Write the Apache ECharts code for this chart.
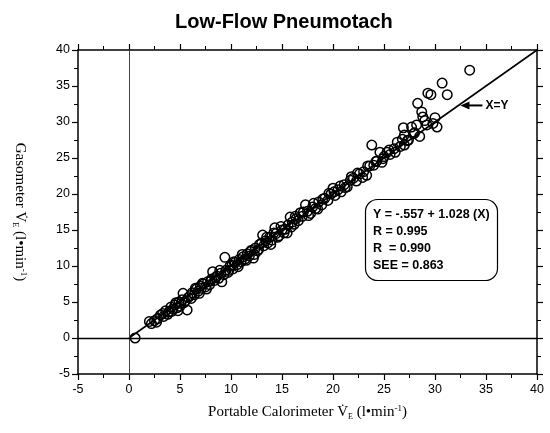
<!DOCTYPE html>
<html>
<head>
<meta charset="utf-8">
<script src="https://cdn.jsdelivr.net/npm/echarts@6/dist/echarts.min.js"></script>
<style>
  html, body { margin: 0; padding: 0; background: #fff; }
  #main { width: 550px; height: 433px; }
</style>
</head>
<body>
<div id="main"></div>
<script>
// Portable calorimeter VE (x) vs gasometer VE (y), l/min
var calorimeter = [
  0.6, 2.2, 2.5, 2.8, 3.1, 3.4, 3.6, 3.9, 4.1, 4.3, 4.5, 4.7, 4.9, 5.0, 5.2, 5.3, 5.5, 5.7, 5.8, 6.0,
  6.2, 6.4, 6.6, 6.8, 7.0, 7.1, 7.3, 7.5, 7.7, 7.9, 8.1, 8.2, 8.4, 8.6, 8.8, 9.0, 9.1, 9.4, 9.5, 9.7,
  9.9, 10.1, 10.2, 10.4, 10.6, 10.8, 11.0, 11.2, 11.4, 11.6, 11.8, 12.0, 12.2, 12.4, 12.6, 12.8, 13.1, 13.2, 13.4, 13.6,
  13.8, 14.0, 14.3, 14.4, 14.7, 15.0, 15.2, 15.5, 15.6, 15.8, 16.0, 16.2, 16.4, 16.8, 17.0, 17.3, 17.5, 17.8, 18.0, 18.3,
  18.6, 18.9, 19.2, 19.5, 19.8, 20.0, 20.2, 20.5, 20.8, 21.1, 21.4, 21.7, 22.0, 22.3, 22.6, 23.0, 23.3, 23.6, 23.8, 24.0,
  24.3, 24.6, 24.8, 25.0, 25.3, 25.6, 26.0, 26.3, 26.6, 27.0, 27.0, 26.9, 27.4, 27.7, 28.0, 28.2, 28.3, 28.5, 28.7, 28.8,
  29.2, 29.3, 29.6, 30.0, 30.2, 30.7, 31.2, 33.4,
  2.0, 2.7, 3.3, 3.8, 4.2, 4.6, 4.8, 5.1, 5.4, 6.1, 6.5, 6.9, 7.2, 7.6, 8.0, 8.5, 8.9, 9.3, 9.8, 10.3,
  10.7, 11.1, 11.5, 11.9, 12.3, 12.7, 13.0, 13.5, 13.9, 14.2, 14.6, 14.9, 15.3, 15.9, 16.3, 16.6, 17.1, 17.6, 18.1, 18.5,
  19.0, 19.6, 20.1, 20.7, 21.2, 21.8, 22.4, 22.9, 23.4, 24.2, 24.9, 25.5, 26.1, 26.8, 27.3, 27.9, 29.0, 29.8
];
var gasometer = [
  0.0, 2.0, 2.4, 2.7, 3.2, 3.0, 3.8, 3.6, 4.3, 4.0, 4.6, 4.2, 5.0, 4.4, 5.3, 6.2, 5.1, 3.9, 5.6, 5.9,
  6.3, 6.0, 6.8, 6.5, 7.2, 6.9, 7.5, 7.1, 7.8, 7.4, 8.2, 9.2, 8.0, 8.6, 8.3, 9.0, 7.8, 11.2, 9.4, 9.1,
  10.0, 10.1, 9.6, 10.5, 10.2, 10.9, 10.6, 11.3, 11.0, 11.7, 11.4, 12.2, 11.1, 12.5, 12.1, 13.0, 14.3, 12.8, 13.5, 13.2,
  14.0, 13.6, 15.3, 14.5, 14.2, 15.0, 14.6, 14.6, 15.7, 16.8, 16.1, 15.8, 16.6, 17.4, 16.9, 18.5, 17.6, 17.3, 18.2, 18.0,
  18.9, 18.5, 19.4, 19.1, 20.0, 20.8, 19.8, 20.6, 20.3, 21.3, 21.0, 21.9, 22.2, 21.8, 22.8, 23.1, 22.6, 23.9, 26.8, 24.0,
  24.6, 25.8, 24.4, 25.2, 25.8, 25.5, 26.3, 27.2, 26.6, 26.8, 28.2, 29.2, 27.5, 29.3, 28.5, 29.6, 32.6, 28.0, 31.4, 30.7,
  29.6, 34.0, 33.8, 30.6, 29.3, 35.4, 33.8, 37.2,
  2.3, 2.2, 3.4, 3.3, 3.7, 4.9, 3.8, 4.8, 4.9, 5.5, 6.9, 6.2, 7.6, 6.8, 7.9, 8.4, 9.4, 8.8, 9.4, 10.6,
  9.9, 11.6, 10.8, 12.0, 11.6, 12.3, 13.2, 14.0, 13.0, 14.6, 14.0, 15.5, 15.1, 15.4, 16.9, 16.3, 17.5, 17.0, 18.7, 17.9,
  19.3, 20.1, 20.3, 21.1, 20.9, 22.4, 22.9, 22.3, 23.9, 24.5, 24.9, 26.1, 25.8, 27.6, 27.4, 28.4, 30.2, 29.8
];
var identityLine = [0, 40];
var axisMin = -5;
var axisMax = 40;
var axisStep = 5;
var statsLines = [
  'Y = -.557 + 1.028 (X)',
  'R = 0.995',
  'R  = 0.990',
  'SEE = 0.863'
];
var arrowAt = 32.3;

var points = [];
for (var i = 0; i < calorimeter.length; i++) {
  points.push([calorimeter[i], gasometer[i]]);
}

var sansFont = '"Liberation Sans", Arial, sans-serif';
var serifFont = '"Liberation Serif", "Times New Roman", serif';
var nameRich = {
  sub: { fontFamily: serifFont, fontSize: 8, verticalAlign: 'bottom', padding: [8, 0, 0, 0] },
  sup: { fontFamily: serifFont, fontSize: 9, verticalAlign: 'top', padding: [0, 0, 8, 0] }
};

function makeAxis(dim, pos, labels) {
  return {
    type: 'value',
    position: pos,
    min: axisMin,
    max: axisMax,
    interval: axisStep,
    axisLine: { show: true, onZero: false, lineStyle: { color: '#000', width: 1.5 } },
    axisTick: { show: true, length: 6, lineStyle: { color: '#000', width: 1.2 } },
    minorTick: { show: true, splitNumber: 2, length: 4, lineStyle: { color: '#000', width: 1 } },
    splitLine: { show: false },
    axisLabel: {
      show: labels,
      color: '#000',
      fontFamily: sansFont,
      fontSize: 12.5,
      margin: dim === 'x' ? 9 : 8
    }
  };
}

var chart = echarts.init(document.getElementById('main'));

var xBottom = makeAxis('x', 'bottom', true);
xBottom.name = 'Portable Calorimeter V\u0307{sub|E} (l\u2022min{sup|-1})';
xBottom.nameLocation = 'middle';
xBottom.nameGap = 30;
xBottom.nameTextStyle = { color: '#000', fontFamily: serifFont, fontSize: 15, rich: nameRich };

var yLeft = makeAxis('y', 'left', true);
yLeft.name = 'Gasometer V\u0307{sub|E} (l\u2022min{sup|-1})';
yLeft.nameLocation = 'middle';
yLeft.nameRotate = -90;
yLeft.nameGap = 50;
yLeft.nameTextStyle = { color: '#000', fontFamily: serifFont, fontSize: 15, rich: nameRich };

chart.setOption({
  animation: false,
  backgroundColor: '#fff',
  title: [{
    text: 'Low-Flow Pneumotach',
    left: 170,
    top: 7,
    textStyle: { color: '#000', fontFamily: sansFont, fontSize: 20, fontWeight: 'bold' }
  }, {
    text: statsLines.join('\n'),
    left: 365,
    top: 199,
    padding: [7, 8, 7, 8],
    borderColor: '#000',
    borderWidth: 1.2,
    borderRadius: 12,
    textStyle: { color: '#000', fontFamily: sansFont, fontSize: 12.5, fontWeight: 'bold', lineHeight: 17 }
  }],
  grid: { left: 78, right: 13, top: 50, bottom: 59 },
  xAxis: [xBottom, makeAxis('x', 'top', false)],
  yAxis: [yLeft, makeAxis('y', 'right', false)],
  series: [{
    type: 'line',
    data: [[identityLine[0], identityLine[0]], [identityLine[1], identityLine[1]]],
    symbol: 'none',
    lineStyle: { color: '#000', width: 1.6 },
    silent: true,
    markLine: {
      silent: true,
      symbol: 'none',
      label: { show: false },
      data: [
        { xAxis: 0, lineStyle: { color: '#444', width: 1, type: 'solid' } },
        { yAxis: 0, lineStyle: { color: '#000', width: 1.4, type: 'solid' } }
      ]
    }
  }, {
    type: 'scatter',
    data: points,
    symbol: 'circle',
    symbolSize: 9.5,
    itemStyle: { color: 'rgba(0,0,0,0)', borderColor: '#000', borderWidth: 1.5, opacity: 1 }
  }]
});

// "X=Y" arrow label pointing at the identity line
var tip = chart.convertToPixel({ gridIndex: 0 }, [arrowAt, arrowAt]);
var ax = tip[0] + 2;
var ay = tip[1];
chart.setOption({
  graphic: [{
    type: 'polygon',
    shape: { points: [[ax, ay], [ax + 9, ay - 4], [ax + 9, ay + 4]] },
    style: { fill: '#000' }
  }, {
    type: 'line',
    shape: { x1: ax + 8, y1: ay, x2: ax + 22, y2: ay },
    style: { stroke: '#000', lineWidth: 2 }
  }, {
    type: 'text',
    x: ax + 25,
    y: ay,
    style: {
      text: 'X=Y',
      fill: '#000',
      font: 'bold 12px ' + sansFont,
      verticalAlign: 'middle'
    }
  }]
});
</script>
</body>
</html>
